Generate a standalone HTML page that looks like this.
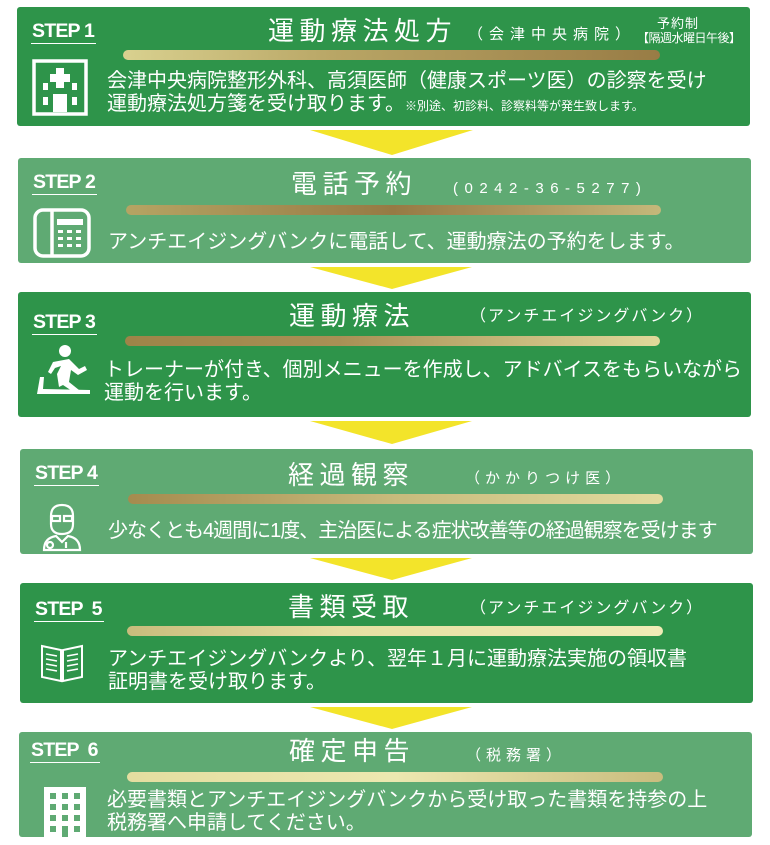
<!DOCTYPE html>
<html><head><meta charset="utf-8"><style>
body{margin:0;width:770px;height:845px;background:#fff;position:relative;overflow:hidden;font-family:"Liberation Sans","Noto Sans CJK JP",sans-serif;color:#fff}
.box{position:absolute;left:18px;width:733px;border-radius:3px}
.d{background:#2e944a}.l{background:#5faa73}
.step{position:absolute;left:14px;top:13px;font-weight:bold;font-size:19.5px;letter-spacing:-0.8px;border-bottom:1.5px solid #fff;padding:0 2px 1px 1px;line-height:22px}
.title{position:absolute;font-size:26px;letter-spacing:5.5px;line-height:30px;white-space:nowrap}
.sub{position:absolute;font-size:15px;letter-spacing:5px;white-space:nowrap;line-height:20px}
.bar{position:absolute;left:107px;width:537px;height:10px;border-radius:5px}
.txt{position:absolute;font-size:20px;line-height:23px;white-space:nowrap;letter-spacing:0}
.arr{position:absolute;left:0;top:0}
</style></head><body>
<svg class="arr" width="770" height="845">
<g fill="#f3e42a">
<polygon points="310,130 473,130 392,155"/>
<polygon points="310,267 472,267 392,289"/>
<polygon points="310,421 472,421 392,444"/>
<polygon points="310,558 472,558 392,580"/>
<polygon points="310,707 472,707 392,729"/>
</g></svg>

<div class="box d" style="top:7px;height:119px;left:17px">
<div class="step">STEP 1</div>
<div class="title" style="left:251px;top:9px">運動療法処方</div>
<div class="sub" style="left:451px;top:18px;letter-spacing:6px">（会津中央病院）</div>
<div style="position:absolute;left:640px;top:6px;font-size:13px;letter-spacing:1px">予約制</div>
<div style="position:absolute;left:620px;top:22px;font-size:12px;letter-spacing:-0.5px">【隔週水曜日午後】</div>
<div class="bar" style="top:43px;left:106px;width:537px;background:linear-gradient(90deg,#d9d18f,#b8a565 40%,#987c45)"></div>
<svg style="position:absolute;left:15px;top:52px" width="56" height="57"><rect x="2" y="2" width="52" height="53" fill="none" stroke="#fff" stroke-width="3.5"/><rect x="24" y="9" width="8" height="20" fill="#fff"/><rect x="18" y="15" width="20" height="8" fill="#fff"/><rect x="11" y="24" width="5" height="7" fill="#fff"/><rect x="40" y="24" width="5" height="7" fill="#fff"/><rect x="11" y="38" width="5" height="8" fill="#fff"/><rect x="40" y="38" width="5" height="8" fill="#fff"/><rect x="21" y="35" width="14" height="18" fill="#fff"/></svg>
<div class="txt" style="left:90px;top:63px">会津中央病院整形外科、高須医師（健康スポーツ医）の診察を受け</div>
<div class="txt" style="left:90px;top:86px">運動療法処方箋を受け取ります。<span style="font-size:12px">※別途、初診料、診察料等が発生致します。</span></div>
</div>

<div class="box l" style="top:158px;height:105px">
<div class="step">STEP 2</div>
<div class="title" style="left:273px;top:11px">電話予約</div>
<div class="sub" style="left:435px;top:21px;letter-spacing:6.5px">(0242-36-5277)</div>
<div class="bar" style="top:47px;left:108px;width:535px;background:linear-gradient(90deg,#b5a463,#967a44 50%,#c4b87a)"></div>
<svg style="position:absolute;left:15px;top:50px" width="60" height="50"><rect x="2" y="2" width="54" height="46" rx="8" fill="none" stroke="#fff" stroke-width="3.5"/><line x1="19" y1="2" x2="19" y2="48" stroke="#fff" stroke-width="3.5"/><rect x="24" y="11" width="26" height="6" fill="#fff"/><g fill="#fff"><rect x="25" y="22" width="5" height="3"/><rect x="34" y="22" width="5" height="3"/><rect x="43" y="22" width="5" height="3"/><rect x="25" y="29" width="5" height="3"/><rect x="34" y="29" width="5" height="3"/><rect x="43" y="29" width="5" height="3"/><rect x="25" y="36" width="5" height="3"/><rect x="34" y="36" width="5" height="3"/><rect x="43" y="36" width="5" height="3"/></g></svg>
<div class="txt" style="left:90px;top:73px">アンチエイジングバンクに電話して、運動療法の予約をします。</div>
</div>

<div class="box d" style="top:292px;height:125px">
<div class="step" style="top:19px">STEP 3</div>
<div class="title" style="left:271px;top:9px">運動療法</div>
<div class="sub" style="left:452px;top:15px;letter-spacing:2px;font-size:16px">（アンチエイジングバンク）</div>
<div class="bar" style="top:44px;left:107px;width:535px;background:linear-gradient(90deg,#9e8448,#a89055 40%,#e0d99a)"></div>
<svg style="position:absolute;left:17px;top:52px" width="55" height="50" fill="#fff"><circle cx="30" cy="7" r="6"/><path d="M18 18 L34 15 L44 25 L50 22 L52 26 L43 31 L36 26 L34 38 L44 46 L40 49 L28 41 L24 43 L22 30 L26 22 L20 24 L16 30 L13 28 Z"/><path d="M2 50 L5 33 L9 33 L8 45 L55 46 L55 50 Z"/></svg>
<div class="txt" style="left:86px;top:67px">トレーナーが付き、個別メニューを作成し、アドバイスをもらいながら</div>
<div class="txt" style="left:86px;top:90px">運動を行います。</div>
</div>

<div class="box l" style="top:449px;height:105px;left:20px">
<div class="step">STEP 4</div>
<div class="title" style="left:268px;top:11px">経過観察</div>
<div class="sub" style="left:445px;top:20px">（かかりつけ医）</div>
<div class="bar" style="top:45px;left:108px;width:535px;background:linear-gradient(90deg,#a58b4e,#c7bb7c 50%,#e2dc9f)"></div>
<svg style="position:absolute;left:22px;top:53px" width="40" height="50" fill="none" stroke="#fff" stroke-width="2.2"><path d="M9 14 Q9 3 20 3 Q31 3 31 14 L31 22 Q31 32 20 32 Q9 32 9 22 Z"/><rect x="10" y="14" width="8" height="5"/><rect x="22" y="14" width="8" height="5"/><path d="M2 48 Q2 36 14 34 L20 40 L26 34 Q38 36 38 48 Z"/><circle cx="8" cy="43" r="3"/><line x1="24" y1="40" x2="24" y2="46"/></svg>
<div class="txt" style="left:88px;top:71px;letter-spacing:-1px">少なくとも4週間に1度、主治医による症状改善等の経過観察を受けます</div>
</div>

<div class="box d" style="top:583px;height:120px;left:20px">
<div class="step" style="top:15px">STEP &nbsp;5</div>
<div class="title" style="left:268px;top:9px">書類受取</div>
<div class="sub" style="left:450px;top:16px;letter-spacing:2px;font-size:16px">（アンチエイジングバンク）</div>
<div class="bar" style="top:43px;left:107px;width:536px;background:linear-gradient(90deg,#c8bc7c,#e6e0a2 40%,#f0ecb6)"></div>
<svg style="position:absolute;left:20px;top:60px" width="44" height="40" fill="none" stroke="#fff" stroke-width="2"><path d="M2 3 L21 7 L21 38 L2 34 Z"/><path d="M42 3 L23 7 L23 38 L42 34 Z"/><path d="M6 11 L17 13 M6 16 L17 18 M6 21 L17 23 M6 26 L17 28 M38 11 L27 13 M38 16 L27 18 M38 21 L27 23 M38 26 L27 28" stroke-width="1.5"/></svg>
<div class="txt" style="left:88px;top:65px">アンチエイジングバンクより、翌年１月に運動療法実施の領収書</div>
<div class="txt" style="left:88px;top:88px">証明書を受け取ります。</div>
</div>

<div class="box l" style="top:732px;height:105px;left:19px">
<div class="step" style="top:7px;left:11px">STEP &nbsp;6</div>
<div class="title" style="left:270px;top:4px">確定申告</div>
<div class="sub" style="left:447px;top:14px">（税務署）</div>
<div class="bar" style="top:40px;left:108px;width:536px;background:linear-gradient(90deg,#e4dea0,#ece8b0 50%,#c9bd7e)"></div>
<svg style="position:absolute;left:25px;top:55px" width="42" height="50"><rect x="0" y="0" width="42" height="50" fill="#fff"/><g fill="#5faa73"><rect x="6" y="6" width="6" height="6"/><rect x="18" y="6" width="6" height="6"/><rect x="30" y="6" width="6" height="6"/><rect x="6" y="17" width="6" height="6"/><rect x="18" y="17" width="6" height="6"/><rect x="30" y="17" width="6" height="6"/><rect x="6" y="28" width="6" height="6"/><rect x="18" y="28" width="6" height="6"/><rect x="30" y="28" width="6" height="6"/><rect x="6" y="39" width="6" height="6"/><rect x="18" y="39" width="6" height="11"/><rect x="30" y="39" width="6" height="6"/></g></svg>
<div class="txt" style="left:88px;top:57px">必要書類とアンチエイジングバンクから受け取った書類を持参の上</div>
<div class="txt" style="left:88px;top:80px">税務署へ申請してください。</div>
</div>
</body></html>
